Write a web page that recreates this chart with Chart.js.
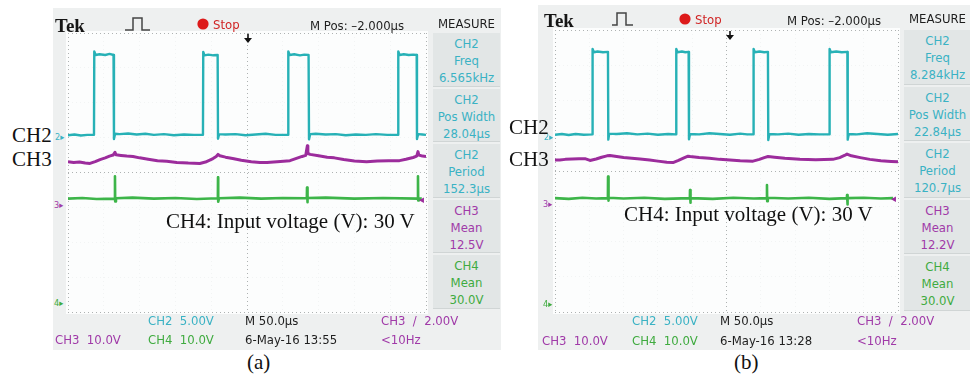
<!DOCTYPE html>
<html>
<head>
<meta charset="utf-8">
<script src="https://cdn.jsdelivr.net/npm/chart.js@4.4.1/dist/chart.umd.min.js"></script>
<style>
  html, body { margin: 0; padding: 0; background: #fff; }
  #page { position: relative; width: 970px; height: 378px; overflow: hidden; background: #fff; }
  .screen { position: absolute; background: #eef0f0; }
  canvas { position: absolute; background: #fcfdfd; }
  .lbl { position: absolute; white-space: pre; line-height: 1; transform: translateY(-50%); }
  .tk { font-family: "DejaVu Sans Condensed", "DejaVu Sans", sans-serif; font-stretch: condensed; font-size: 13px; color: #222; }
  .serif { font-family: "Liberation Serif", "Times New Roman", serif; font-size: 21px; color: #111; }
  .tek { font-family: "Liberation Serif", "Times New Roman", serif; font-weight: bold; font-size: 19px; color: #151515; }
  .mark { font-family: "DejaVu Sans Condensed", "DejaVu Sans", sans-serif; font-size: 9px; }
  .box { position: absolute; background: #e2e6e6; border-bottom: 1px solid #d0d5d5; text-align: center; box-sizing: border-box; padding-top: 2px; }
  .box div { line-height: 17px; font-family: "DejaVu Sans Condensed", "DejaVu Sans", sans-serif; font-stretch: condensed; font-size: 13px; }
  svg { position: absolute; overflow: visible; }
</style>
</head>
<body>
<div id="page">
  <div class="screen" style="left:53px; top:8px; width:448px; height:342px;"></div>
  <div class="screen" style="left:538px; top:5px; width:440px; height:345px;"></div>
  <canvas id="scopeA" width="362" height="283" style="left:66px; top:31px;"></canvas>
  <canvas id="scopeB" width="347" height="286" style="left:553px; top:28px;"></canvas>
</div>
<script>
// colours of the scope channels
const CYAN = '#27b1b6', MAGENTA = '#9c2c9c', GREEN = '#3db549';
const CYAN_TXT = '#3ab2c4', MAGENTA_TXT = '#a03aa8', GREEN_TXT = '#3fab3f';

// traces: [time (us, 50 us/div), level (divisions from centre)]
const ch2A = [[0,1.07],[9,1.09],[18,1.06],[27,1.08],[36.3,1.08],[36.7,3.47],[38.5,3.37],[44,3.39],[52,3.37],[58,3.40],[63.6,3.37],[64.2,0.96],[65.8,1.11],[72,1.10],[84,1.12],[96,1.09],[108,1.11],[120,1.08],[134,1.10],[148,1.07],[162,1.09],[176,1.08],[188.5,1.08],[188.9,3.46],[190.6,3.36],[196,3.38],[203,3.36],[209.0,3.37],[209.5,0.97],[211,1.10],[220,1.09],[234,1.10],[248,1.07],[262,1.09],[276,1.11],[290,1.08],[307.3,1.08],[307.7,3.47],[309.5,3.37],[316,3.39],[324,3.36],[330,3.38],[336.0,3.37],[336.6,0.95],[338.2,1.10],[346,1.11],[360,1.09],[374,1.10],[388,1.07],[402,1.09],[416,1.08],[430,1.10],[446,1.08],[460.9,1.08],[461.3,3.47],[463,3.37],[469,3.39],[476,3.37],[482,3.38],[487.0,3.37],[487.4,0.96],[489,1.10],[495,1.09],[500,1.08]];
const ch3A = [[0,0.31],[8,0.29],[16,0.30],[24,0.27],[30.7,0.26],[38,0.31],[44.7,0.37],[52,0.42],[58,0.47],[63,0.50],[65.6,0.58],[67,0.51],[74,0.49],[82,0.47],[90.8,0.46],[100,0.42],[112,0.38],[125,0.34],[138,0.32],[152,0.29],[168,0.27],[184,0.26],[192,0.30],[202.5,0.40],[207,0.46],[209.5,0.52],[212,0.48],[220,0.44],[230,0.40],[242,0.35],[256,0.31],[268,0.29],[278,0.29],[292,0.31],[310,0.34],[320,0.41],[327,0.46],[332,0.49],[334.3,0.77],[335,0.55],[338,0.52],[350,0.48],[362,0.44],[372,0.42],[385,0.37],[400,0.33],[417,0.31],[432,0.33],[448,0.34],[463,0.34],[472,0.38],[482,0.43],[487,0.47],[488.8,0.60],[490,0.50],[495,0.47],[500,0.46]];
const ch4A = [[0,-0.75],[20,-0.73],[40,-0.76],[65.4,-0.75],[65.6,-0.11],[65.9,-0.83],[67,-0.74],[90,-0.72],[120,-0.75],[150,-0.73],[180,-0.76],[209.3,-0.74],[209.5,-0.14],[209.8,-0.84],[211,-0.74],[240,-0.72],[270,-0.75],[300,-0.73],[333.6,-0.74],[333.8,-0.43],[334.1,-0.85],[335,-0.73],[360,-0.72],[400,-0.75],[440,-0.73],[488.6,-0.75],[488.8,-0.11],[489.1,-0.80],[490,-0.74],[494,-0.75]];

const ch2B = [[0,1.03],[10,1.05],[20,1.02],[30,1.05],[42,1.03],[54.4,1.04],[54.8,3.46],[56.5,3.37],[62,3.39],[70,3.37],[77.2,3.38],[77.7,0.89],[79,1.06],[90,1.05],[105,1.07],[120,1.04],[135,1.06],[150,1.03],[165,1.05],[176.4,1.04],[176.8,3.46],[178.5,3.37],[185,3.39],[190,3.37],[194.8,3.38],[195.3,0.90],[196.8,1.05],[210,1.04],[225,1.07],[240,1.05],[255,1.03],[270,1.06],[280,1.04],[289.1,1.04],[289.5,3.46],[291.2,3.37],[298,3.39],[305,3.37],[310.4,3.38],[310.9,0.88],[312.5,1.05],[325,1.04],[340,1.06],[355,1.03],[370,1.05],[385,1.04],[399.9,1.04],[400.3,3.46],[402,3.37],[410,3.39],[418,3.37],[426.2,3.38],[426.7,0.89],[428.3,1.05],[440,1.04],[455,1.07],[470,1.05],[485,1.03],[500,1.05]];
const ch3B = [[0,0.31],[7,0.31],[15,0.33],[25,0.34],[35,0.35],[43.7,0.35],[51,0.30],[60,0.34],[68,0.39],[75.8,0.43],[80,0.44],[90,0.41],[100,0.38],[112,0.36],[124,0.34],[138,0.31],[150,0.28],[163,0.25],[172,0.24],[180,0.30],[188,0.37],[194,0.42],[197,0.41],[210,0.38],[225,0.36],[240,0.33],[255,0.31],[270,0.29],[288.6,0.28],[298,0.33],[305,0.38],[310.5,0.41],[320,0.39],[335,0.36],[357,0.33],[380,0.32],[405,0.33],[415,0.38],[422,0.44],[425.7,0.48],[432,0.43],[445,0.38],[459,0.33],[475,0.29],[490,0.27],[500,0.26]];
const ch4B = [[0,-0.77],[20,-0.79],[40,-0.76],[60,-0.78],[77.1,-0.77],[77.3,-0.16],[77.6,-0.84],[78.5,-0.76],[100,-0.78],[130,-0.76],[160,-0.79],[196.6,-0.77],[196.8,-0.54],[197.1,-0.90],[198,-0.77],[230,-0.79],[260,-0.76],[290,-0.78],[308.8,-0.77],[309,-0.40],[309.3,-0.86],[310.2,-0.76],[340,-0.78],[370,-0.76],[400,-0.79],[425.5,-0.77],[425.7,-0.68],[426,-0.95],[427,-0.77],[450,-0.76],[475,-0.78],[492.7,-0.77]];

// MEASURE column readouts
const measureNames = [['CH2','Freq'],['CH2','Pos Width'],['CH2','Period'],['CH3','Mean'],['CH4','Mean']];
const measureA = ['6.565kHz','28.04\u00b5s','152.3\u00b5s','12.5V','30.0V'];
const measureB = ['8.284kHz','22.84\u00b5s','120.7\u00b5s','12.2V','30.0V'];
const timeStamps = ['6-May-16 13:55', '6-May-16 13:28'];

const page = document.getElementById('page');

function put(text, x, y, cls, color, extra) {
    const d = document.createElement('div');
    d.className = 'lbl ' + cls;
    d.textContent = text;
    d.style.left = x + 'px';
    d.style.top = y + 'px';
    if (color) d.style.color = color;
    if (extra) Object.assign(d.style, extra);
    page.appendChild(d);
    return d;
}

function svg(x, y, w, h, inner) {
    const s = document.createElementNS('http://www.w3.org/2000/svg', 'svg');
    s.setAttribute('width', w);
    s.setAttribute('height', h);
    s.style.left = x + 'px';
    s.style.top = y + 'px';
    s.innerHTML = inner;
    page.appendChild(s);
}

function graticule(centre, edges) {
    return ctx => {
        const v = ctx.tick ? ctx.tick.value : null;
        if (v === centre || edges.includes(v)) return '#aeb2b2';
        return 'rgba(160,165,165,0.10)';
    };
}

function scope(id, ch2, ch3, ch4) {
    const trace = (pts, color, w) => ({
        data: pts.map(p => ({ x: p[0], y: p[1] })),
        borderColor: color,
        borderWidth: w,
        borderJoinStyle: 'round',
        pointRadius: 0,
        tension: 0,
        fill: false
    });
    return new Chart(document.getElementById(id), {
        type: 'line',
        data: { datasets: [trace(ch4, GREEN, 2.6), trace(ch3, MAGENTA, 3), trace(ch2, CYAN, 2.4)] },
        options: {
            responsive: false,
            animation: false,
            events: [],
            layout: { padding: 2 },
            plugins: { legend: { display: false }, tooltip: { enabled: false } },
            scales: {
                x: {
                    type: 'linear', min: 0, max: 500,
                    ticks: { display: false, stepSize: 50 },
                    grid: { drawTicks: false, color: graticule(250, [0, 500]), lineWidth: 1 },
                    border: { display: false, dash: [1, 3] }
                },
                y: {
                    type: 'linear', min: -4, max: 4,
                    ticks: { display: false, stepSize: 1 },
                    grid: { drawTicks: false, color: graticule(0, [-4, 4]), lineWidth: 1 },
                    border: { display: false, dash: [1, 3] }
                }
            }
        }
    });
}

scope('scopeA', ch2A, ch3A, ch4A);
scope('scopeB', ch2B, ch3B, ch4B);

// measure column
function measureColumn(left, top, pitch, values) {
    measureNames.forEach((nm, i) => {
        const b = document.createElement('div');
        b.className = 'box';
        b.style.left = left + 'px';
        b.style.top = (top + i * pitch) + 'px';
        b.style.width = '67px';
        b.style.height = (pitch - 2) + 'px';
        const col = nm[0] === 'CH2' ? CYAN_TXT : nm[0] === 'CH3' ? MAGENTA_TXT : GREEN_TXT;
        [nm[0], nm[1], values[i]].forEach(t => {
            const l = document.createElement('div');
            l.textContent = t;
            l.style.color = col;
            b.appendChild(l);
        });
        page.appendChild(b);
    });
}
measureColumn(433, 33, 55.5, measureA);
measureColumn(904, 30, 56.5, measureB);

// top bars
function topBar(o) {
    put('Tek', o.tek, o.y + 1, 'tek');
    svg(o.pulse, o.y - 6, 26, 13,
        `<path d="M0 12 H${o.r} V0 H${o.f} V12 H${o.pw}" fill="none" stroke="#444" stroke-width="1.5"/>`);
    svg(o.dot - 6, o.y - 6, 12, 12, '<circle cx="6" cy="6" r="5.6" fill="#dd1a1a"/>');
    put('Stop', o.stop, o.y, 'tk', '#d02424');
    put('M Pos: \u20132.000\u00b5s', o.mpos, o.y + 0.5, 'tk', '#1e1e1e');
    put('MEASURE', o.meas, o.y - 1, 'tk', '#1e1e1e', { width: '67px', textAlign: 'center' });
    svg(o.arrow - 4, o.ay, 8, 10, '<path d="M4 0 V5" stroke="#111" stroke-width="1.6"/><path d="M0 4 L8 4 L4 9 Z" fill="#111"/>');
}
topBar({ y: 24, tek: 55, pulse: 125, r: 8, f: 17, pw: 25, dot: 203, stop: 213, mpos: 310, meas: 433, arrow: 248, ay: 34 });
topBar({ y: 19, tek: 544, pulse: 612, r: 5, f: 14, pw: 21, dot: 685, stop: 695, mpos: 787, meas: 904, arrow: 730, ay: 31 });

// channel ground markers and trigger level
function markers(x, ys, trig) {
    put('2\u25b8', x + 1, ys[0], 'mark', CYAN_TXT);
    put('3\u25b8', x, ys[1], 'mark', MAGENTA_TXT);
    put('4\u25b8', x, ys[2], 'mark', GREEN_TXT);
    put('\u25c2', trig[0], trig[1], 'mark', MAGENTA, { fontSize: '11px' });
}
markers(54, [137, 205, 303], [419, 199]);
markers(543, [137, 204, 304], [891, 198]);

// bottom readouts
function bottom(o) {
    put('CH2  5.00V', o.c2, o.y1, 'tk', CYAN_TXT);
    put('M 50.0\u00b5s', o.m, o.y1, 'tk', '#1e1e1e');
    put('CH3  /  2.00V', o.c3, o.y1, 'tk', MAGENTA_TXT);
    put('CH3  10.0V', o.c1, o.y2, 'tk', MAGENTA_TXT);
    put('CH4  10.0V', o.c2, o.y2, 'tk', GREEN_TXT);
    put(o.stamp, o.m, o.y2, 'tk', '#1e1e1e');
    put('<10Hz', o.c3, o.y2, 'tk', MAGENTA_TXT);
}
bottom({ y1: 320, y2: 339, c1: 55, c2: 148, m: 245, c3: 381, stamp: timeStamps[0] });
bottom({ y1: 320, y2: 340, c1: 542, c2: 632, m: 720, c3: 857, stamp: timeStamps[1] });

// figure annotations
put('CH2', 12, 135, 'serif');
put('CH3', 12, 158.5, 'serif');
put('CH4: Input voltage (V): 30 V', 166, 221, 'serif');
put('(a)', 247, 362, 'serif');
put('CH2', 509, 127, 'serif');
put('CH3', 509, 158.5, 'serif');
put('CH4: Input voltage (V): 30 V', 624, 214, 'serif');
put('(b)', 734, 362, 'serif');
</script>
</body>
</html>
